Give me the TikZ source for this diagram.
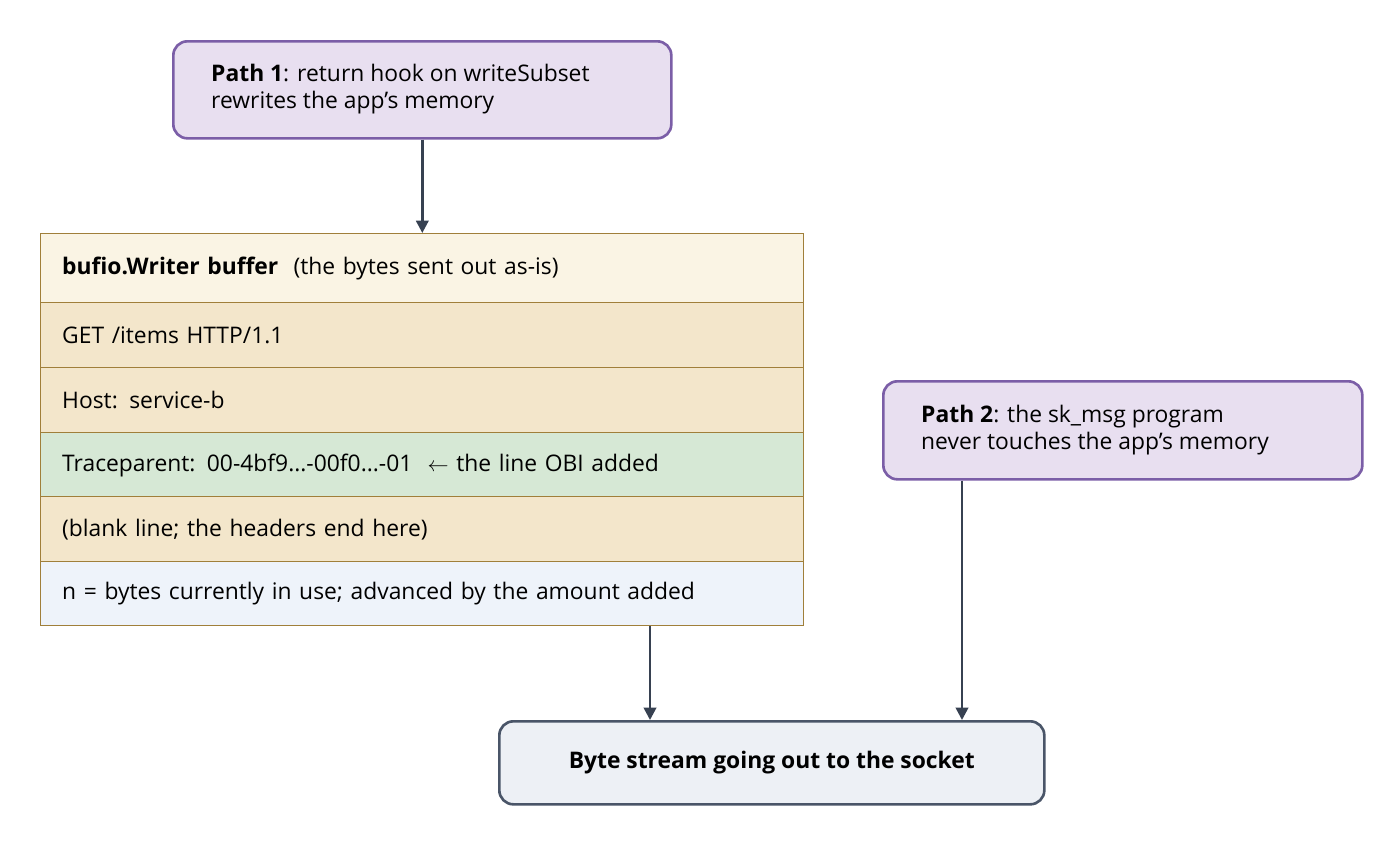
\documentclass[tikz,border=0pt]{standalone}
\usepackage{fontspec}
\setmainfont{Open Sans}
\usetikzlibrary{arrows.meta}
\definecolor{pathfill}{HTML}{E8DFF0}
\definecolor{pathdraw}{HTML}{7B5EA7}
\definecolor{headfill}{HTML}{FAF4E4}
\definecolor{rowfill}{HTML}{F3E6CB}
\definecolor{greenfill}{HTML}{D6E8D5}
\definecolor{lastfill}{HTML}{EEF3FA}
\definecolor{rowdraw}{HTML}{A07F3A}
\definecolor{sockfill}{HTML}{EDF0F5}
\definecolor{sockdraw}{HTML}{4A5568}
\definecolor{arrowc}{HTML}{374151}
\begin{document}
\begin{tikzpicture}[
        x=0.02cm, y=-0.02cm,
        font=\fontsize{13}{15.5}\selectfont,
        pathbox/.style={draw=pathdraw, fill=pathfill, line width=1.5pt, rounded corners=8pt, align=left, anchor=north west, inner sep=0pt},
        row/.style={draw=rowdraw, line width=0.8pt, anchor=north west, minimum width=763*0.02cm, minimum height=65*0.02cm, text width=720*0.02cm, inner xsep=16*0.02cm, align=left},
        arr/.style={-{Triangle[length=7pt, width=7pt]}, draw=arrowc, line width=1.5pt}]

        % frame
        \useasboundingbox (0,0) rectangle (1400,845);

        % NODES
        \node[pathbox, minimum width=498*0.02cm, minimum height=97*0.02cm] (path1) at (172,40) {};
        \node[anchor=west, align=left] at (205,89) {\textbf{Path 1}: return hook on writeSubset\\rewrites the app's memory};

        \node[row, fill=headfill, minimum height=69*0.02cm] (head) at (40,233) {\textbf{bufio.Writer buffer}\ \ (the bytes sent out as-is)};
        \node[row, fill=rowfill] (get) at (40,302) {GET /items HTTP/1.1};
        \node[row, fill=rowfill] (host) at (40,367) {Host: service-b};
        \node[row, fill=greenfill] (trace) at (40,432) {Traceparent: 00-4bf9...-00f0...-01\ \ $\leftarrow$ the line OBI added};
        \node[row, fill=rowfill] (blank) at (40,496) {(blank line; the headers end here)};
        \node[row, fill=lastfill, minimum height=64*0.02cm] (used) at (40,561) {n = bytes currently in use; advanced by the amount added};

        \node[pathbox, minimum width=479*0.02cm, minimum height=98*0.02cm] (path2) at (882,380) {};
        \node[anchor=west, align=left] at (915,430) {\textbf{Path 2}: the sk\_msg program\\never touches the app's memory};

        \node[draw=sockdraw, fill=sockfill, line width=1.5pt, rounded corners=8pt, minimum width=545*0.02cm, minimum height=83*0.02cm, anchor=north west, font=\fontsize{13}{15.5}\selectfont\bfseries] (sock) at (498,720) {Byte stream going out to the socket};

        % ARROWS
        \draw[arr] (path1.south) -- (head.north -| path1.south);
        \draw[arr] (used.south -| 650,0) -- (sock.north -| 650,0);
        \draw[arr] (path2.south -| 962,0) -- (sock.north -| 962,0);
\end{tikzpicture}
\end{document}
